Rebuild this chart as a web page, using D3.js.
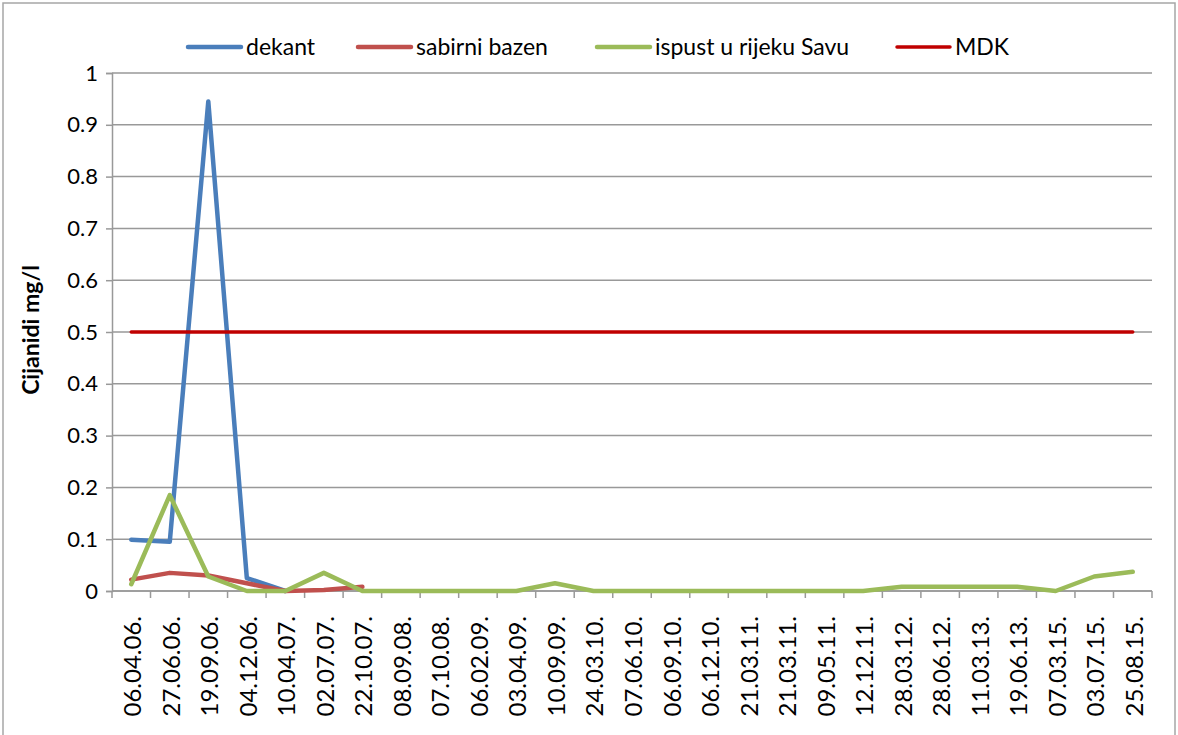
<!DOCTYPE html>
<html>
<head>
<meta charset="utf-8">
<script src="https://cdn.jsdelivr.net/npm/d3@7/dist/d3.min.js"></script>
<style>
  body { margin: 0; background: #fff; }
  svg text { font-family: Lato, "Open Sans", sans-serif; fill: #000; }
</style>
</head>
<body>
<script>
"use strict";

var dates = ["06.04.06.", "27.06.06.", "19.09.06.", "04.12.06.", "10.04.07.", "02.07.07.", "22.10.07.",
    "08.09.08.", "07.10.08.", "06.02.09.", "03.04.09.", "10.09.09.", "24.03.10.", "07.06.10.",
    "06.09.10.", "06.12.10.", "21.03.11.", "21.03.11. ", "09.05.11.", "12.12.11.", "28.03.12.",
    "28.06.12.", "11.03.13.", "19.06.13.", "07.03.15.", "03.07.15.", "25.08.15."];

var dekant = [0.099, 0.095, 0.945, 0.025, 0.0];
var sabirniBazen = [0.022, 0.035, 0.03, 0.015, 0.0, 0.002, 0.008];
var ispust = [0.013, 0.185, 0.028, 0.0, 0.0, 0.035, 0.0,
    0, 0, 0, 0, 0.015, 0, 0,
    0, 0, 0, 0, 0, 0, 0.008,
    0.008, 0.008, 0.008, 0.0, 0.028, 0.037];
var mdk = dates.map(function() { return 0.5; });

var yTicks = [0, 0.1, 0.2, 0.3, 0.4, 0.5, 0.6, 0.7, 0.8, 0.9, 1];

var series = [
    { name: "dekant", values: dekant, color: "#4a7ebb", width: 4.5 },
    { name: "sabirni bazen", values: sabirniBazen, color: "#c0504d", width: 4.5 },
    { name: "ispust u rijeku Savu", values: ispust, color: "#9bbb59", width: 4.5 },
    { name: "MDK", values: mdk, color: "#c00000", width: 3.5 }
];

var W = 1178, H = 735;
var margin = {top: 73, right: 26, bottom: 144, left: 112},
    width = W - margin.left - margin.right,
    height = H - margin.top - margin.bottom;

var svg = d3.select("body").append("svg")
    .attr("width", W)
    .attr("height", H);

// outer chart border
svg.append("rect")
    .attr("x", 3).attr("y", 3)
    .attr("width", W - 6).attr("height", H + 10)
    .attr("fill", "none")
    .attr("stroke", "#a6a6a6")
    .attr("stroke-width", 1.5);

var g = svg.append("g")
    .attr("transform", "translate(" + margin.left + "," + margin.top + ")");

var x = d3.scaleBand().domain(dates).range([0, width]);
var y = d3.scaleLinear().domain([0, 1]).range([height, 0]);

// gridlines
g.append("g")
    .selectAll("line")
    .data(yTicks)
    .enter().append("line")
    .attr("x1", 0).attr("x2", width)
    .attr("y1", function(d) { return y(d); })
    .attr("y2", function(d) { return y(d); })
    .attr("stroke", "#999")
    .attr("stroke-width", 1.5);

// y axis
var yAxis = g.append("g")
    .call(d3.axisLeft(y).tickValues(yTicks).tickSize(6).tickPadding(8)
        .tickFormat(function(d) { return d === 0 || d === 1 ? d : d3.format(".1f")(d); }));
yAxis.selectAll("path, line").attr("stroke", "#999").attr("stroke-width", 1.5);
yAxis.selectAll("text").style("font-size", "22px").style("font-family", "Lato, sans-serif");

// x axis: ticks at band boundaries
var xAxisG = g.append("g").attr("transform", "translate(0," + height + ")");
xAxisG.append("line")
    .attr("x1", 0).attr("x2", width)
    .attr("stroke", "#999").attr("stroke-width", 1.5);
xAxisG.selectAll(".tk")
    .data(dates.concat(["end"]))
    .enter().append("line")
    .attr("class", "tk")
    .attr("x1", function(d, i) { return i * x.step(); })
    .attr("x2", function(d, i) { return i * x.step(); })
    .attr("y1", 0).attr("y2", 7)
    .attr("stroke", "#999").attr("stroke-width", 1.5);
xAxisG.selectAll(".lbl")
    .data(dates)
    .enter().append("text")
    .attr("class", "lbl")
    .attr("transform", function(d) {
        return "translate(" + (x(d) + x.bandwidth() / 2 + 10) + ",25) rotate(-90)";
    })
    .attr("text-anchor", "end")
    .style("font-size", "24px")
    .text(function(d) { return d.trim(); });

// lines
var line = d3.line()
    .x(function(d, i) { return x(dates[i]) + x.bandwidth() / 2; })
    .y(function(d) { return y(d); });

series.forEach(function(s) {
    g.append("path")
        .datum(s.values)
        .attr("d", line)
        .attr("fill", "none")
        .attr("stroke", s.color)
        .attr("stroke-width", s.width)
        .attr("stroke-linejoin", "round")
        .attr("stroke-linecap", "round");
});

// y axis title
svg.append("text")
    .attr("transform", "translate(39,330) rotate(-90)")
    .attr("text-anchor", "middle")
    .style("font-size", "23px")
    .style("font-weight", "bold")
    .text("Cijanidi mg/l");

// legend
var legendX = [188, 358, 597, 897];
var legend = svg.append("g");
series.forEach(function(s, i) {
    var lg = legend.append("g").attr("transform", "translate(" + legendX[i] + ",47)");
    lg.append("line")
        .attr("x1", 0).attr("x2", 53)
        .attr("stroke", s.color)
        .attr("stroke-width", s.width)
        .attr("stroke-linecap", "round");
    lg.append("text")
        .attr("x", 58)
        .attr("dy", "0.35em")
        .style("font-size", "23px")
        .text(s.name);
});
</script>
</body>
</html>
